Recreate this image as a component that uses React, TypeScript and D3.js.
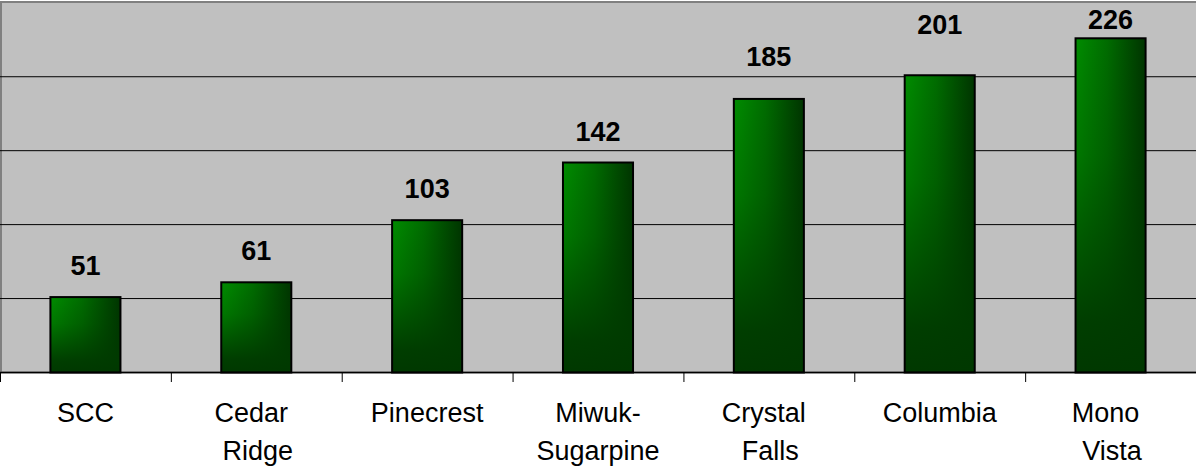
import React from "react";
import * as d3 from "d3";

// Enrollment by school
const categories: string[] = [
  "SCC",
  "Cedar Ridge",
  "Pinecrest",
  "Miwuk-Sugarpine",
  "Crystal Falls",
  "Columbia",
  "Mono Vista",
];
const values: number[] = [51, 61, 103, 142, 185, 201, 226];
// Axis label lines (wrapped the way the category axis breaks them)
const labelLines: string[][] = [
  ["SCC"],
  ["Cedar", "Ridge"],
  ["Pinecrest"],
  ["Miwuk-", "Sugarpine"],
  ["Crystal", "Falls"],
  ["Columbia"],
  ["Mono", "Vista"],
];
const yTicks: number[] = [0, 50, 100, 150, 200, 250];

const W = 1196;
const H = 470;
const plotTop = 2.8;
const plotBottom = 372.5;

// Per-label vertical adjustments for the value labels near the top
const valueLabelShift: Record<string, number> = {
  "Crystal Falls": -11,
  Columbia: -19,
  "Mono Vista": 13,
};

export default function App() {
  const x = d3.scaleBand<string>().domain(categories).range([0, W]).padding(0);
  const y = d3.scaleLinear().domain([0, 250]).range([plotBottom, plotTop]);
  const step = x.bandwidth();
  const barW = step * 0.41;
  const font = "Arial, 'Liberation Sans', sans-serif";

  return (
    <svg
      width={W}
      height={H}
      style={{ position: "absolute", left: 0, top: 0, display: "block", background: "#fff" }}
    >
      <defs>
        <linearGradient id="barH" x1="0" y1="0" x2="1" y2="0">
          <stop offset="0" stopColor="#008c00" />
          <stop offset="0.45" stopColor="#006c00" />
          <stop offset="1" stopColor="#003400" />
        </linearGradient>
        <linearGradient id="barV" x1="0" y1="0" x2="0" y2="1">
          <stop offset="0" stopColor="#003a00" stopOpacity="0" />
          <stop offset="0.35" stopColor="#003a00" stopOpacity="0.25" />
          <stop offset="0.85" stopColor="#003a00" stopOpacity="0.95" />
          <stop offset="1" stopColor="#003800" stopOpacity="1" />
        </linearGradient>
      </defs>

      {/* plot area */}
      <rect x={1} y={2} width={W + 4} height={plotBottom - 2} fill="#c0c0c0" stroke="#808080" strokeWidth={2} />

      {/* gridlines */}
      {yTicks
        .filter((t) => t > 0 && t < 250)
        .map((t) => (
          <line key={t} x1={0} x2={W} y1={y(t)} y2={y(t)} stroke="#000" strokeWidth={1} />
        ))}

      {/* bars */}
      {categories.map((c, i) => {
        const bx = (x(c) as number) + (step - barW) / 2;
        const by = y(values[i]);
        const bh = plotBottom - by;
        return (
          <g key={c}>
            <rect x={bx} y={by} width={barW} height={bh} fill="url(#barH)" />
            <rect x={bx} y={by} width={barW} height={bh} fill="url(#barV)" stroke="#000" strokeWidth={2} />
          </g>
        );
      })}

      {/* category axis */}
      <line x1={0} x2={W} y1={plotBottom} y2={plotBottom} stroke="#000" strokeWidth={1.5} />
      {categories.map((c) => (
        <line key={c} x1={(x(c) as number) + 0.5} x2={(x(c) as number) + 0.5} y1={plotBottom} y2={382} stroke="#000" strokeWidth={1} />
      ))}

      {/* value labels */}
      {categories.map((c, i) => (
        <text
          key={c}
          x={(x(c) as number) + step / 2}
          y={y(values[i]) - 22 + (valueLabelShift[c] || 0)}
          textAnchor="middle"
          fontFamily={font}
          fontWeight="bold"
          fontSize={27}
          fill="#000"
        >
          {values[i]}
        </text>
      ))}

      {/* category labels */}
      {categories.map((c, i) => {
        const lines = labelLines[i];
        const spaceBreak = lines.length > 1 && !lines[0].endsWith("-");
        return (
          <text key={c} textAnchor="middle" fontFamily={font} fontSize={27} fill="#000">
            {lines.map((ln, j) => (
              <tspan
                key={j}
                x={(x(c) as number) + step / 2 + (spaceBreak ? (j === 0 ? -5 : 1.5) : 0)}
                y={422 + j * 38}
              >
                {ln}
              </tspan>
            ))}
          </text>
        );
      })}
    </svg>
  );
}
